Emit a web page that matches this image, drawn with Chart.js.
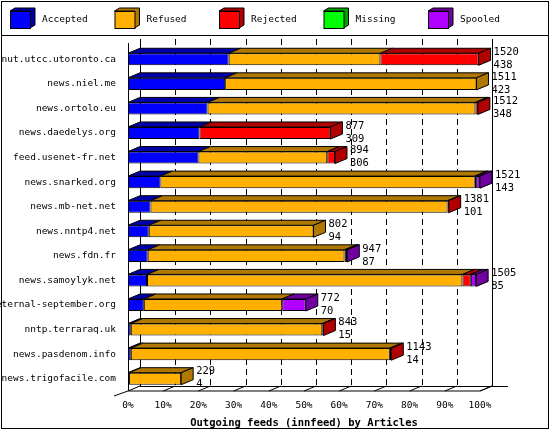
<!DOCTYPE html>
<html>
<head>
<meta charset="utf-8">
<script src="https://cdn.jsdelivr.net/npm/chart.js@4"></script>
<style>
  body { margin: 0; background: #fff; }
  canvas { display: block; }
</style>
</head>
<body>
<canvas id="chartFeeds" width="550" height="430"></canvas>
<script>
// share of the biggest feed (1521 articles), in percent
const hosts = ["nut.utcc.utoronto.ca", "news.niel.me", "news.ortolo.eu", "news.daedelys.org",
    "feed.usenet-fr.net", "news.snarked.org", "news.mb-net.net", "news.nntp4.net", "news.fdn.fr",
    "news.samoylyk.net", "eternal-september.org", "nntp.terraraq.uk", "news.pasdenom.info",
    "news.trigofacile.com"];
const accepted = [28.6, 27.6, 22.6, 20.3, 20.0, 9.2, 6.4, 5.9, 5.6, 5.4, 4.5, 0.8, 0.8, 0.3];
const refused  = [43.1, 71.4, 76.1, 0, 36.6, 89.3, 84.4, 46.8, 55.9, 89.6, 39.3, 54.4, 73.6, 14.8];
const rejected = [27.9, 0, 0.7, 37.2, 2.2, 0.4, 0.3, 0, 0.4, 2.4, 0, 0.3, 0.4, 0];
const missing  = [0, 0, 0, 0, 0, 0, 0, 0, 0, 0, 0, 0, 0, 0];
const spooled  = [0, 0, 0, 0, 0, 1.1, 0, 0, 0.4, 1.5, 6.7, 0, 0, 0];
const totals   = [1520, 1511, 1512, 877, 894, 1521, 1381, 802, 947, 1505, 772, 843, 1143, 229];
const acceptedCounts = [438, 423, 348, 309, 306, 143, 101, 94, 87, 85, 70, 15, 14, 4];
const xTicks = [0, 10, 20, 30, 40, 50, 60, 70, 80, 90, 100];

const seriesNames = ["Accepted", "Refused", "Rejected", "Missing", "Spooled"];
const front = ["#0000ff", "#ffb000", "#ff0000", "#00ff00", "#b000ff"];
const dark  = ["#0000a8", "#b07800", "#b00000", "#00a000", "#7000a0"];
const DX = 12, DY = 5;
const MONO = "'DejaVu Sans Mono', monospace";
const FONT = "9.5px " + MONO;

let ctx = document.getElementById("chartFeeds").getContext("2d");

let frame3d = {
    id: "frame3d",
    beforeDraw(chart) {
        let c = chart.ctx;
        c.save();
        c.fillStyle = "#fff";
        c.fillRect(0, 0, chart.width, chart.height);
        c.restore();
    },
    beforeDatasetsDraw(chart) {
        let c = chart.ctx, a = chart.chartArea, xs = chart.scales.x;
        c.save();
        c.strokeStyle = "#000";
        c.lineWidth = 1;
        let x0 = xs.getPixelForValue(0), x100 = xs.getPixelForValue(100);
        // back grid
        xTicks.forEach(v => {
            let x = Math.round(xs.getPixelForValue(v) + DX) + 0.5;
            c.setLineDash(v == 0 || v == 100 ? [] : [6, 4]);
            c.beginPath();
            c.moveTo(x, a.top - 8);
            c.lineTo(x, a.bottom - DY);
            c.stroke();
            c.setLineDash([]);
            let fx = xs.getPixelForValue(v);
            c.beginPath();
            c.moveTo(fx, a.bottom);
            c.lineTo(fx + DX, a.bottom - DY);
            c.stroke();
        });
        // front axis and floor
        c.beginPath();
        c.moveTo(Math.round(x0) + 0.5, a.top - 4);
        c.lineTo(Math.round(x0) + 0.5, a.bottom);
        c.lineTo(x100, a.bottom);
        c.lineTo(x100 + DX, a.bottom - DY);
        c.moveTo(x0 + DX, a.bottom - DY + 0.5);
        c.lineTo(x100 + DX + 16, a.bottom - DY + 0.5);
        c.moveTo(x0 - 14, a.bottom + DY);
        c.lineTo(x0, a.bottom);
        c.stroke();
        c.restore();
    },
    afterDatasetsDraw(chart) {
        let c = chart.ctx;
        c.save();
        c.strokeStyle = "#000";
        c.lineWidth = 1;
        hosts.forEach((h, i) => {
            let last = null, lastDs = 0;
            chart.data.datasets.forEach((ds, d) => {
                let bar = chart.getDatasetMeta(d).data[i];
                let x1 = bar.base, x2 = bar.x;
                if (x2 - x1 < 0.3) return;
                let top = bar.y - bar.height / 2;
                c.fillStyle = dark[d];
                c.beginPath();
                c.moveTo(x1, top);
                c.lineTo(x1 + DX, top - DY);
                c.lineTo(x2 + DX, top - DY);
                c.lineTo(x2, top);
                c.closePath();
                c.fill();
                c.stroke();
                last = bar; lastDs = d;
            });
            if (!last) return;
            let top = last.y - last.height / 2, bot = last.y + last.height / 2, x2 = last.x;
            c.fillStyle = dark[lastDs];
            c.beginPath();
            c.moveTo(x2, top);
            c.lineTo(x2 + DX, top - DY);
            c.lineTo(x2 + DX, bot - DY);
            c.lineTo(x2, bot);
            c.closePath();
            c.fill();
            c.stroke();
            c.fillStyle = "#000";
            c.font = "10.5px " + MONO;
            c.textAlign = "left";
            c.textBaseline = "middle";
            c.fillText(String(totals[i]), x2 + DX + 3, last.y - 7);
            c.fillText(String(acceptedCounts[i]), x2 + DX + 3, last.y + 6);
        });
        c.restore();
    },
    afterDraw(chart) {
        let c = chart.ctx;
        c.save();
        c.strokeStyle = "#000";
        c.lineWidth = 1;
        c.strokeRect(1.5, 1.5, chart.width - 3, chart.height - 3);
        c.beginPath();
        c.moveTo(1, 35.5);
        c.lineTo(chart.width - 1, 35.5);
        c.stroke();
        c.font = FONT;
        c.textBaseline = "middle";
        seriesNames.forEach((name, k) => {
            let x = 10 + k * 104.5, y = 11;
            c.fillStyle = dark[k];
            c.beginPath();
            c.moveTo(x, y); c.lineTo(x + 5, y - 3); c.lineTo(x + 25, y - 3);
            c.lineTo(x + 25, y + 14); c.lineTo(x + 20, y + 17); c.lineTo(x + 20, y);
            c.closePath();
            c.fill(); c.stroke();
            c.fillStyle = front[k];
            c.fillRect(x + 0.5, y + 0.5, 20, 17);
            c.strokeRect(x + 0.5, y + 0.5, 20, 17);
            c.fillStyle = "#000";
            c.fillText(name, x + 32, y + 9);
        });
        c.restore();
    }
};

let myChart = new Chart(ctx, {
    type: "bar",
    data: {
        labels: hosts,
        datasets: [
            { label: "Accepted", data: accepted },
            { label: "Refused", data: refused },
            { label: "Rejected", data: rejected },
            { label: "Missing", data: missing },
            { label: "Spooled", data: spooled },
        ].map((ds, k) => Object.assign(ds, {
            backgroundColor: front[k],
            borderColor: "#000",
            borderWidth: 1,
            borderSkipped: false,
            categoryPercentage: 1,
            barPercentage: 0.49,
        })),
    },
    options: {
        indexAxis: "y",
        responsive: false,
        devicePixelRatio: 1,
        animation: false,
        layout: { padding: { top: 47, right: 70, left: 0, bottom: 0 } },
        plugins: { legend: { display: false }, tooltip: { enabled: false } },
        scales: {
            x: {
                stacked: true,
                min: 0,
                max: 100,
                afterBuildTicks: s => { s.ticks = xTicks.map(v => ({ value: v })); },
                afterFit: s => { s.height = 39; },
                grid: { display: false },
                border: { display: false },
                ticks: {
                    font: { family: MONO, size: 9.5 },
                    color: "#000",
                    padding: 1,
                    maxRotation: 0,
                    autoSkip: false,
                    callback: v => v + "%",
                },
                title: {
                    display: true,
                    text: "Outgoing feeds (innfeed) by Articles",
                    font: { family: MONO, size: 10.5, weight: "bold" },
                    color: "#000",
                    padding: { top: 0, bottom: 0 },
                },
            },
            y: {
                stacked: true,
                afterFit: s => { s.width = 128; },
                grid: { display: false },
                border: { display: false },
                ticks: {
                    font: { family: MONO, size: 9.5 },
                    color: "#000",
                    padding: 4,
                    autoSkip: false,
                },
            },
        },
    },
    plugins: [frame3d],
});
</script>
</body>
</html>
